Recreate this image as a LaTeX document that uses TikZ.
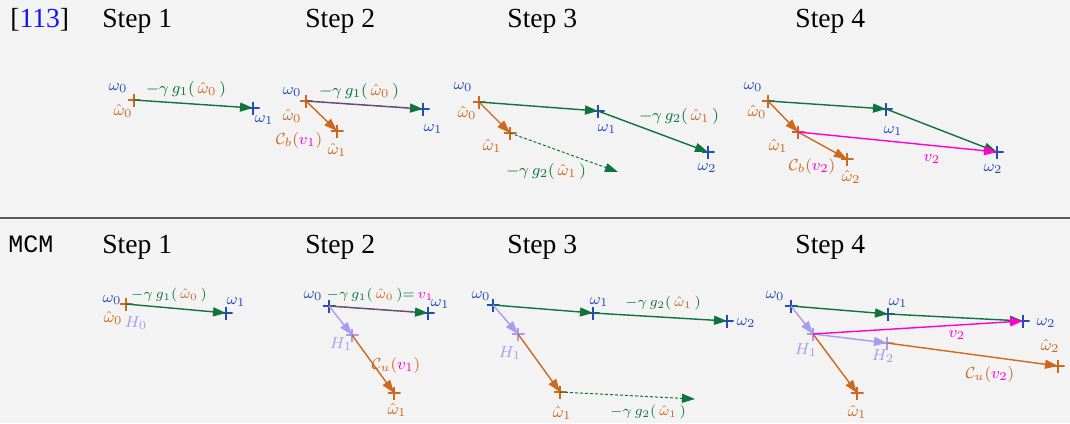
\documentclass[tikz,border=0pt]{standalone}
\usepackage{fontspec}
\setmainfont{Liberation Serif}
\setmonofont{Liberation Mono}
\usetikzlibrary{positioning,arrows.meta}

\definecolor{bgc}{RGB}{243,243,243}
\definecolor{wblue}{RGB}{35,75,185}
\definecolor{hatorange}{RGB}{205,105,30}
\definecolor{stepgreen}{RGB}{15,115,60}
\definecolor{vmag}{RGB}{255,0,205}
\definecolor{hlav}{RGB}{170,155,240}
\definecolor{refblue}{RGB}{20,20,240}

\newcommand{\hw}[1]{\,\textcolor{hatorange}{\hat{\omega}_{#1}}\,}
\newcommand{\vm}[1]{\textcolor{vmag}{v_{#1}}}

\begin{document}
\begin{tikzpicture}[
            x=0.5pt, y=-0.5pt,
            head/.style={anchor=base west, inner sep=0pt, font=\fontsize{13.8}{16}\selectfont},
            pnt/.style={minimum size=6.5pt, inner sep=0pt, path picture={
                \draw[#1, line width=0.7pt] (path picture bounding box.north) -- (path picture bounding box.south)
                    (path picture bounding box.west) -- (path picture bounding box.east);}},
            vec/.style={line width=0.7pt, -{Triangle[length=6.5pt, width=4.5pt]}},
            guess/.style={line width=0.5pt, dash pattern=on 1.5pt off 1pt, -{Triangle[length=6.5pt, width=4.5pt]}},
            same/.style={vmag, line width=0.5pt, dash pattern=on 2pt off 2pt, shorten >=6pt},
            wl/.style={text=wblue, inner sep=0pt, font=\footnotesize},
            hl/.style={text=hatorange, inner sep=0pt, font=\footnotesize},
            ll/.style={text=hlav, inner sep=0pt, font=\footnotesize},
            gl/.style={text=stepgreen, inner sep=0pt, font=\fontsize{8}{10}\selectfont},
            gls/.style={text=stepgreen, inner sep=0pt, font=\fontsize{7}{9}\selectfont},
            cl/.style={text=hatorange, inner sep=0pt, font=\fontsize{8}{10}\selectfont},
        ]

        % Background and rule
        \useasboundingbox (0,0) rectangle (1070,423);
        \fill[bgc] (0,0) rectangle (1070,423);
        \coordinate (rule-l) at (0,218);
        \coordinate (rule-r) at (1070,218);
        \draw[black!65, line width=0.75pt] (rule-l) -- (rule-r);

        % Headers
        \node[head] (ref) at (10,27) {[\textcolor{refblue}{113}]};
        \node[head, font=\ttfamily\fontsize{12.5}{14}\selectfont] (mcm) at (8,252) {MCM};
        \foreach \s [count=\i] in {102,305,507,795} {
            \node[head] (top-\i) at (\s,27) {Step \i};
            \node[head] (bot-\i) at (\s,253) {Step \i};
        }

        % ---- [113], Step 1
        \node[pnt=hatorange] (t1-w0) at (134,100) {};
        \node[pnt=wblue] (t1-w1) at (253,108) {};
        \draw[vec, stepgreen] (t1-w0.center) -- (t1-w1.center);
        \node[wl] (t1-l0) at (118,88) {$\omega_0$};
        \node[hl] (t1-m0) at (123,111) {$\hat{\omega}_0$};
        \node[wl] (t1-l1) at (264,120) {$\omega_1$};
        \node[gl] (t1-g) at (186,89) {$-\gamma\, g_1(\hw{0})$};

        % ---- [113], Step 2
        \node[pnt=hatorange] (t2-w0) at (306,101) {};
        \node[pnt=wblue] (t2-w1) at (423,109) {};
        \node[pnt=hatorange] (t2-h1) at (337,131) {};
        \draw[vec, stepgreen] (t2-w0.center) -- (t2-w1.center);
        \draw[same] (t2-w0.center) -- (t2-w1.center);
        \draw[vec, hatorange] (t2-w0.center) -- (t2-h1.center);
        \node[wl] (t2-l0) at (292,92) {$\omega_0$};
        \node[hl] (t2-m0) at (292,116) {$\hat{\omega}_0$};
        \node[wl] (t2-l1) at (433,129) {$\omega_1$};
        \node[hl] (t2-m1) at (337,150) {$\hat{\omega}_1$};
        \node[gl] (t2-g) at (359,91) {$-\gamma\, g_1(\hw{0})$};
        \node[cl] (t2-c) at (299,140) {$\mathcal{C}_b(\vm{1})$};

        % ---- [113], Step 3
        \node[pnt=hatorange] (t3-w0) at (479,102) {};
        \node[pnt=wblue] (t3-w1) at (598,111) {};
        \node[pnt=wblue] (t3-w2) at (708,152) {};
        \node[pnt=hatorange] (t3-h1) at (510,133) {};
        \coordinate (t3-e) at (618,172);
        \draw[vec, stepgreen] (t3-w0.center) -- (t3-w1.center);
        \draw[vec, stepgreen] (t3-w1.center) -- (t3-w2.center);
        \draw[vec, hatorange] (t3-w0.center) -- (t3-h1.center);
        \draw[guess, stepgreen] (t3-h1.center) -- (t3-e);
        \node[wl] (t3-l0) at (463,87) {$\omega_0$};
        \node[hl] (t3-m0) at (467,113) {$\hat{\omega}_0$};
        \node[wl] (t3-l1) at (607,129) {$\omega_1$};
        \node[wl] (t3-l2) at (707,168) {$\omega_2$};
        \node[hl] (t3-m1) at (492,146) {$\hat{\omega}_1$};
        \node[gl] (t3-g) at (679,116) {$-\gamma\, g_2(\hw{1})$};
        \node[gl] (t3-d) at (546,171) {$-\gamma\, g_2(\hw{1})$};

        % ---- [113], Step 4
        \node[pnt=hatorange] (t4-w0) at (768,101) {};
        \node[pnt=wblue] (t4-w1) at (886,109) {};
        \node[pnt=wblue] (t4-w2) at (997,152) {};
        \node[pnt=hatorange] (t4-h1) at (798,132) {};
        \node[pnt=hatorange] (t4-h2) at (847,159) {};
        \draw[vec, stepgreen] (t4-w0.center) -- (t4-w1.center);
        \draw[vec, stepgreen] (t4-w1.center) -- (t4-w2.center);
        \draw[vec, hatorange] (t4-w0.center) -- (t4-h1.center);
        \draw[vec, hatorange] (t4-h1.center) -- (t4-h2.center);
        \draw[vec, vmag] (t4-h1.center) -- (t4-w2.center);
        \node[wl] (t4-l0) at (753,87) {$\omega_0$};
        \node[hl] (t4-m0) at (757,112) {$\hat{\omega}_0$};
        \node[wl] (t4-l1) at (893,131) {$\omega_1$};
        \node[wl] (t4-l2) at (993,169) {$\omega_2$};
        \node[hl] (t4-m1) at (778,146) {$\hat{\omega}_1$};
        \node[hl] (t4-m2) at (851,177) {$\hat{\omega}_2$};
        \node[text=vmag, inner sep=0pt, font=\footnotesize] (t4-v) at (932,159) {$v_2$};
        \node[cl] (t4-c) at (812,166) {$\mathcal{C}_b(\vm{2})$};

        % ---- MCM, Step 1
        \node[pnt=hatorange] (b1-w0) at (126,304) {};
        \node[pnt=wblue] (b1-w1) at (226,313) {};
        \draw[vec, stepgreen] (b1-w0.center) -- (b1-w1.center);
        \node[wl] (b1-l0) at (112,300) {$\omega_0$};
        \node[hl] (b1-m0) at (113,318) {$\hat{\omega}_0$};
        \node[ll] (b1-H0) at (136,323) {$H_0$};
        \node[wl] (b1-l1) at (236,302) {$\omega_1$};
        \node[gls] (b1-g) at (169,295) {$-\gamma\, g_1(\hw{0})$};

        % ---- MCM, Step 2
        \node[pnt=wblue] (b2-w0) at (329,306) {};
        \node[pnt=wblue] (b2-w1) at (428,313) {};
        \node[pnt=hlav] (b2-H1) at (352,335) {};
        \node[pnt=hatorange] (b2-h1) at (394,393) {};
        \draw[vec, stepgreen] (b2-w0.center) -- (b2-w1.center);
        \draw[same] (b2-w0.center) -- (b2-w1.center);
        \draw[vec, hlav] (b2-w0.center) -- (b2-H1.center);
        \draw[vec, hatorange] (b2-H1.center) -- (b2-h1.center);
        \node[wl] (b2-l0) at (313,296) {$\omega_0$};
        \node[wl] (b2-l1) at (440,304) {$\omega_1$};
        \node[ll] (b2-H) at (341,344) {$H_1$};
        \node[hl] (b2-m1) at (397,410) {$\hat{\omega}_1$};
        \node[gls] (b2-g) at (380,295) {$-\gamma\, g_1(\hw{0}){=}\,\vm{1}$};
        \node[cl] (b2-c) at (396,365) {$\mathcal{C}_u(\vm{1})$};

        % ---- MCM, Step 3
        \node[pnt=wblue] (b3-w0) at (493,305) {};
        \node[pnt=wblue] (b3-w1) at (593,313) {};
        \node[pnt=wblue] (b3-w2) at (727,321) {};
        \node[pnt=hlav] (b3-H1) at (518,334) {};
        \node[pnt=hatorange] (b3-h1) at (560,392) {};
        \coordinate (b3-e) at (695,399);
        \draw[vec, stepgreen] (b3-w0.center) -- (b3-w1.center);
        \draw[vec, stepgreen] (b3-w1.center) -- (b3-w2.center);
        \draw[vec, hlav] (b3-w0.center) -- (b3-H1.center);
        \draw[vec, hatorange] (b3-H1.center) -- (b3-h1.center);
        \draw[guess, stepgreen] (b3-h1.center) -- (b3-e);
        \node[wl] (b3-l0) at (481,296) {$\omega_0$};
        \node[wl] (b3-l1) at (599,302) {$\omega_1$};
        \node[wl] (b3-l2) at (746,323) {$\omega_2$};
        \node[ll] (b3-H) at (510,353) {$H_1$};
        \node[hl] (b3-m1) at (562,413) {$\hat{\omega}_1$};
        \node[gls] (b3-g) at (663,303) {$-\gamma\, g_2(\hw{1})$};
        \node[gls] (b3-d) at (648,412) {$-\gamma\, g_2(\hw{1})$};

        % ---- MCM, Step 4
        \node[pnt=wblue] (b4-w0) at (791,306) {};
        \node[pnt=wblue] (b4-w1) at (888,314) {};
        \node[pnt=wblue] (b4-w2) at (1023,321) {};
        \node[pnt=hlav] (b4-H1) at (813,334) {};
        \node[pnt=hlav] (b4-H2) at (887,343) {};
        \node[pnt=hatorange] (b4-h1) at (857,393) {};
        \node[pnt=hatorange] (b4-h2) at (1058,366) {};
        \draw[vec, stepgreen] (b4-w0.center) -- (b4-w1.center);
        \draw[vec, stepgreen] (b4-w1.center) -- (b4-w2.center);
        \draw[vec, hlav] (b4-w0.center) -- (b4-H1.center);
        \draw[vec, hatorange] (b4-H1.center) -- (b4-h1.center);
        \draw[vec, hlav] (b4-H1.center) -- (b4-H2.center);
        \draw[vec, hatorange] (b4-H2.center) -- (b4-h2.center);
        \draw[vec, vmag] (b4-H1.center) -- (b4-w2.center);
        \node[wl] (b4-l0) at (775,296) {$\omega_0$};
        \node[wl] (b4-l1) at (898,303) {$\omega_1$};
        \node[wl] (b4-l2) at (1046,323) {$\omega_2$};
        \node[ll] (b4-Ha) at (806,350) {$H_1$};
        \node[ll] (b4-Hb) at (883,356) {$H_2$};
        \node[hl] (b4-m1) at (857,412) {$\hat{\omega}_1$};
        \node[hl] (b4-m2) at (1050,346) {$\hat{\omega}_2$};
        \node[text=vmag, inner sep=0pt, font=\footnotesize] (b4-v) at (957,335) {$v_2$};
        \node[cl] (b4-c) at (990,374) {$\mathcal{C}_u(\vm{2})$};

    \end{tikzpicture}
\end{document}
